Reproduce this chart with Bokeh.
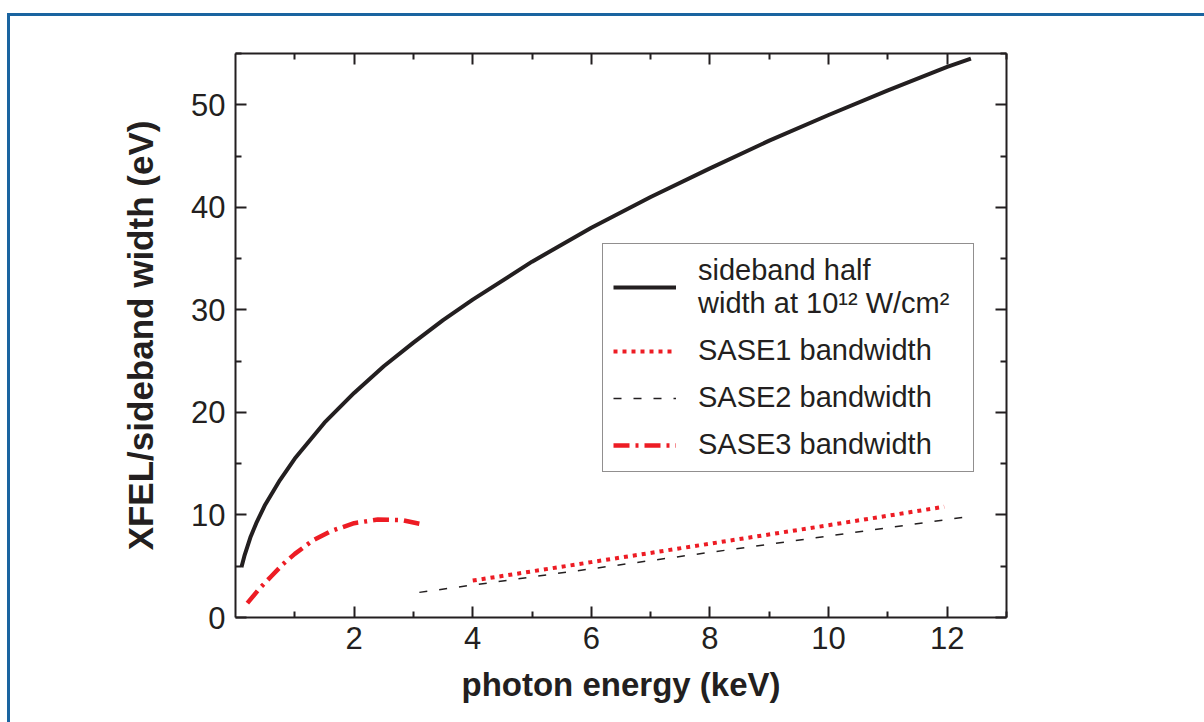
from bokeh.plotting import figure
from bokeh.models import (Legend, LegendItem, LinearAxis, FixedTicker, Range1d)
from bokeh.embed import file_html
from bokeh.resources import INLINE

# Sideband half width at 1e12 W/cm^2 versus photon energy
sideband_energy_kev = [0.10, 0.15, 0.25, 0.35, 0.5, 0.75, 1.0, 1.5, 2.0, 2.5, 3.0, 3.5, 4.0,
                       5.0, 6.0, 7.0, 8.0, 9.0, 10.0, 11.0, 12.0, 12.4]
sideband_width_ev = [4.9, 6.0, 7.8, 9.2, 11.0, 13.4, 15.5, 19.0, 21.9, 24.5, 26.8, 29.0, 31.0,
                     34.7, 38.0, 41.0, 43.8, 46.5, 49.0, 51.4, 53.7, 54.5]

# SASE undulator bandwidths
sase1_energy_kev = [4.0, 6.0, 8.0, 10.0, 11.95]
sase1_width_ev = [3.6, 5.4, 7.2, 9.0, 10.8]

sase2_energy_kev = [3.1, 6.0, 9.0, 12.3]
sase2_width_ev = [2.45, 4.75, 7.15, 9.8]

sase3_energy_kev = [0.2, 0.4, 0.6, 0.8, 1.0, 1.3, 1.6, 2.0, 2.4, 2.8, 3.1]
sase3_width_ev = [1.4, 2.8, 4.0, 5.2, 6.2, 7.5, 8.4, 9.2, 9.55, 9.5, 9.15]

x_major = [2, 4, 6, 8, 10, 12]
x_minor = [1, 3, 5, 7, 9, 11, 13]
y_major = [0, 10, 20, 30, 40, 50]
y_minor = [5, 15, 25, 35, 45, 55]

INK = "#231f20"
RED = "#ed1c24"
BLUE = "#1a64a0"
FONT = "Liberation Sans"

p = figure(
    frame_width=771, frame_height=564,
    min_border_left=225, min_border_top=37, min_border_right=198, min_border_bottom=105,
    x_range=Range1d(0, 13), y_range=Range1d(0, 55),
    output_backend="svg", toolbar_location=None,
    x_axis_location=None, y_axis_location=None,
)
p.styles = {
    "border-top": f"3px solid {BLUE}",
    "border-left": f"3px solid {BLUE}",
    "margin-left": "7px",
    "margin-top": "13px",
}
p.grid.visible = False
p.outline_line_color = None
p.background_fill_color = "white"
p.border_fill_color = "white"

xt = FixedTicker(ticks=x_major, minor_ticks=x_minor)
yt = FixedTicker(ticks=y_major, minor_ticks=y_minor)


def style_axis(ax):
    ax.axis_line_color = INK
    ax.axis_line_width = 2
    ax.major_tick_line_color = INK
    ax.minor_tick_line_color = INK
    ax.major_tick_line_width = 2
    ax.minor_tick_line_width = 2
    ax.major_tick_in = 11
    ax.major_tick_out = 0
    ax.minor_tick_in = 6
    ax.minor_tick_out = 0
    ax.major_label_text_font = FONT
    ax.major_label_text_color = INK
    ax.major_label_text_font_size = "31px"
    ax.axis_label_text_font = FONT
    ax.axis_label_text_font_style = "bold"
    ax.axis_label_text_color = INK


bottom = LinearAxis(ticker=xt, axis_label="photon energy (keV)")
style_axis(bottom)
bottom.axis_label_text_font_size = "33px"
bottom.major_label_standoff = 9
bottom.axis_label_standoff = 14
p.add_layout(bottom, "below")

left = LinearAxis(ticker=yt, axis_label="XFEL/sideband width (eV)")
style_axis(left)
left.axis_label_text_font_size = "35px"
left.major_label_standoff = 10
left.axis_label_standoff = 28
p.add_layout(left, "left")

# mirrored tick marks on the top and right frame edges, without numbers
top = LinearAxis(ticker=xt)
style_axis(top)
top.major_label_overrides = {t: "" for t in x_major}
top.major_label_standoff = 0
p.add_layout(top, "above")

right = LinearAxis(ticker=yt)
style_axis(right)
right.major_label_overrides = {t: "" for t in y_major}
right.major_label_standoff = 0
p.add_layout(right, "right")

r_side = p.line(sideband_energy_kev, sideband_width_ev, line_color=INK, line_width=4)
r_s1 = p.line(sase1_energy_kev, sase1_width_ev, line_color=RED, line_width=4, line_dash="4 5")
r_s2 = p.line(sase2_energy_kev, sase2_width_ev, line_color=INK, line_width=1.5, line_dash="8 12")
r_s3 = p.line(sase3_energy_kev, sase3_width_ev, line_color=RED, line_width=4.5, line_dash="16 6 3 6")

legend = Legend(
    items=[
        LegendItem(label="sideband half\nwidth at 10\u00b9\u00b2 W/cm\u00b2", renderers=[r_side]),
        LegendItem(label="SASE1 bandwidth", renderers=[r_s1]),
        LegendItem(label="SASE2 bandwidth", renderers=[r_s2]),
        LegendItem(label="SASE3 bandwidth", renderers=[r_s3]),
    ],
    location=(367, 145),
    label_text_font=FONT,
    label_text_font_size="29px",
    label_text_color=INK,
    label_width=265,
    glyph_width=63,
    glyph_height=20,
    label_standoff=22,
    padding=10,
    spacing=14,
    margin=0,
    border_line_color=INK,
    border_line_width=1.5,
    background_fill_alpha=1,
)
p.add_layout(legend)

open("out.html", "w").write(file_html(p, INLINE))
